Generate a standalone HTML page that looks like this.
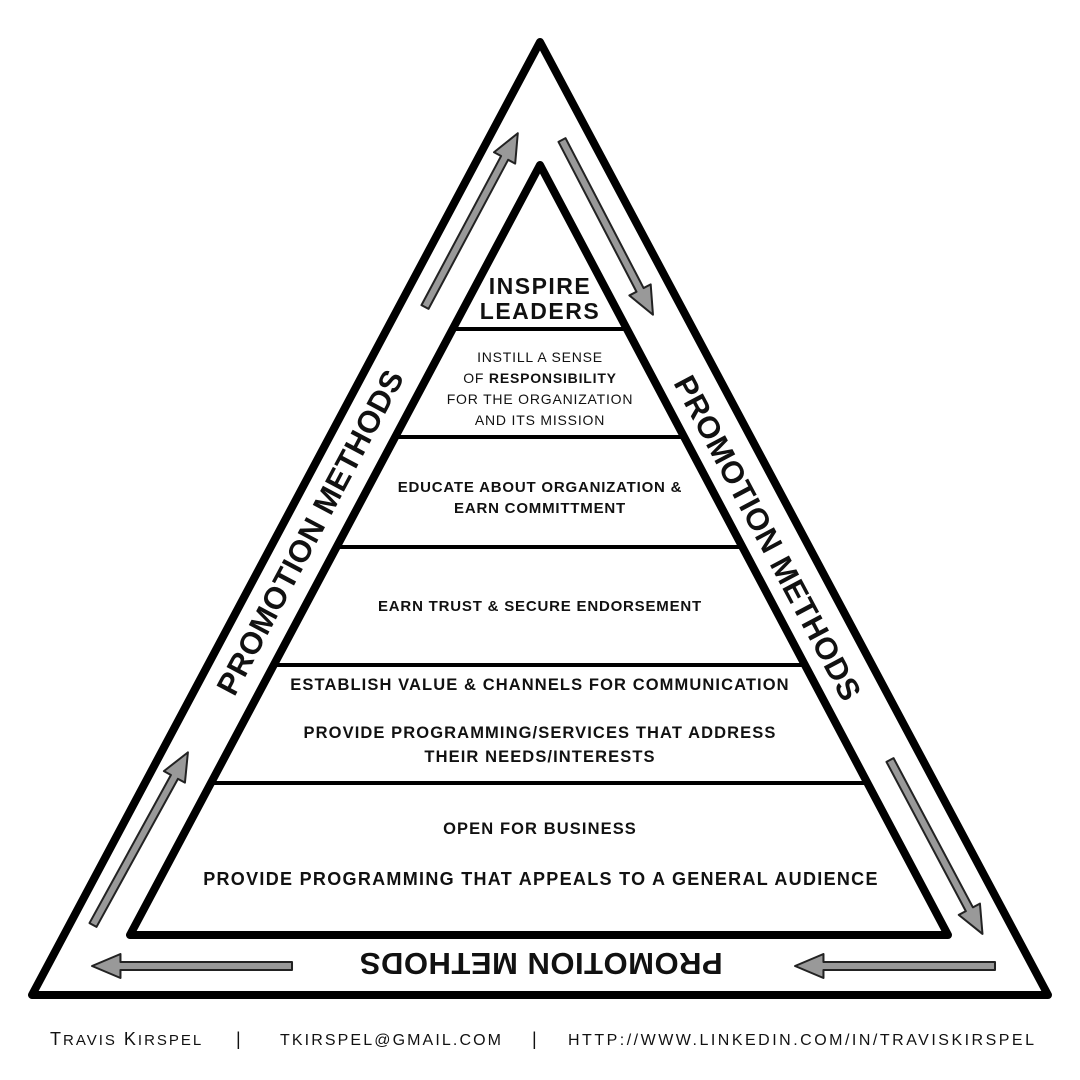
<!DOCTYPE html>
<html><head><meta charset="utf-8"><style>
html,body{margin:0;padding:0;background:#fff;}
svg{display:block}
text{font-family:"Liberation Sans",sans-serif;fill:#111;}
</style></head><body>
<svg width="1080" height="1080" viewBox="0 0 1080 1080" xmlns="http://www.w3.org/2000/svg">
<rect width="1080" height="1080" fill="#fff"/>
<polygon points="540,42 32,995 1048,995" fill="none" stroke="#000" stroke-width="8" stroke-linejoin="round"/>
<polygon points="540,165 130,935 948,935" fill="none" stroke="#000" stroke-width="8" stroke-linejoin="round"/>
<g stroke="#000" stroke-width="4">
<line x1="452" y1="329" x2="628" y2="329"/>
<line x1="395" y1="437" x2="685" y2="437"/>
<line x1="337" y1="547" x2="743" y2="547"/>
<line x1="274" y1="665" x2="806" y2="665"/>
<line x1="211" y1="783" x2="868" y2="783"/>
</g>
<defs>
<polygon id="arr" points="0,-4 169,-4 169,-12 197,0 169,12 169,4 0,4" fill="#999" stroke="#222" stroke-width="2" stroke-linejoin="round"/>
</defs>
<use href="#arr" transform="translate(425,307) rotate(-61.9)"/>
<use href="#arr" transform="translate(93,925) rotate(-61.2)"/>
<use href="#arr" transform="translate(562,140) rotate(62.5)"/>
<use href="#arr" transform="translate(890,760) rotate(62)"/>
<use href="#arr" transform="translate(292,966) rotate(180) scale(1.015,1)"/>
<use href="#arr" transform="translate(995,966) rotate(180) scale(1.015,1)"/>

<g font-weight="bold" font-size="31" letter-spacing="0.5" text-anchor="middle">
<text transform="translate(310,532) rotate(-62)" dy="11">PROMOTION METHODS</text>
<text transform="translate(768,538) rotate(62)" dy="11">PROMOTION METHODS</text>
<text transform="translate(541,964) rotate(180)" dy="11">PROMOTION METHODS</text>
</g>

<g text-anchor="middle">
<text x="540" y="294" font-size="23" font-weight="bold" letter-spacing="1.5">INSPIRE</text>
<text x="540" y="319" font-size="23" font-weight="bold" letter-spacing="1.5">LEADERS</text>
<g font-size="14" letter-spacing="0.8">
<text x="540" y="362">INSTILL A SENSE</text>
<text x="540" y="383">OF <tspan font-weight="bold">RESPONSIBILITY</tspan></text>
<text x="540" y="404">FOR THE ORGANIZATION</text>
<text x="540" y="425">AND ITS MISSION</text>
</g>
<g font-size="15" font-weight="bold" letter-spacing="0.8">
<text x="540" y="492">EDUCATE ABOUT ORGANIZATION &amp;</text>
<text x="540" y="513">EARN COMMITTMENT</text>
<text x="540" y="611">EARN TRUST &amp; SECURE ENDORSEMENT</text>
<text x="540" y="690" font-size="16.5" letter-spacing="1.1">ESTABLISH VALUE &amp; CHANNELS FOR COMMUNICATION</text>
<text x="540" y="738" font-size="16.5" letter-spacing="1.1">PROVIDE PROGRAMMING/SERVICES THAT ADDRESS</text>
<text x="540" y="762" font-size="16.5" letter-spacing="1.1">THEIR NEEDS/INTERESTS</text>
<text x="540" y="834" font-size="16.5" letter-spacing="1.1">OPEN FOR BUSINESS</text>
<text x="541" y="885" font-size="18" letter-spacing="1.3">PROVIDE PROGRAMMING THAT APPEALS TO A GENERAL AUDIENCE</text>
</g>
</g>

<g font-size="18" letter-spacing="2">
<text x="50" y="1045">T<tspan font-size="15">RAVIS</tspan> K<tspan font-size="15">IRSPEL</tspan></text>
<text x="236" y="1045">|</text>
<text x="280" y="1045" font-size="16" textLength="223">TKIRSPEL@GMAIL.COM</text>
<text x="532" y="1045">|</text>
<text x="568" y="1045" font-size="16" textLength="468">HTTP://WWW.LINKEDIN.COM/IN/TRAVISKIRSPEL</text>
</g>
</svg>
</body></html>
